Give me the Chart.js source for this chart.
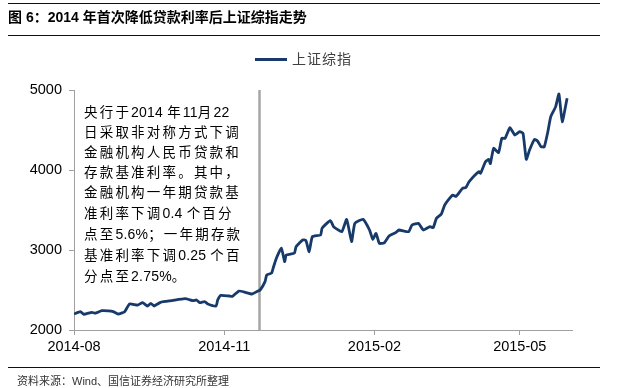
<!DOCTYPE html>
<html lang="zh-CN">
<head>
    <meta charset="UTF-8">
    <title>2014年首次降低贷款利率后上证综指走势</title>
    <script src="https://cdn.jsdelivr.net/npm/chart.js"></script>
    <style>
        body { margin: 0; background: #fff; }
        .wrap { position: relative; width: 642px; height: 388px; font-family: "Liberation Sans", Arial, "Noto Sans CJK SC", sans-serif; color: #000; }
        canvas { position: absolute; left: 0; top: 0; }
        .rule { position: absolute; left: 8px; width: 592px; height: 0; border-top: 1.5px solid #111; }
        .title { position: absolute; left: 8px; top: 7px; font-size: 14px; line-height: 20px; font-weight: bold; }
        .legend { position: absolute; left: 255px; top: 49px; font-size: 14px; line-height: 20px; color: #404040; letter-spacing: 1px; }
        .legend i { display: inline-block; width: 32px; height: 3px; background: #173a6b; vertical-align: middle; margin-right: 5px; position: relative; top: -1px; }
        .note { position: absolute; left: 84px; top: 102px; font-size: 13.5px; line-height: 20px; letter-spacing: 2.2px; }
        .note b { font-weight: normal; letter-spacing: 0.2px; font-size: 14px; }
        .source { position: absolute; left: 17px; top: 374px; font-size: 11px; line-height: 14px; color: #333; }
    </style>
</head>
<body>
<div class="wrap">
    <canvas id="shChart" width="642" height="388"></canvas>
    <div class="rule" style="top:3px"></div>
    <div class="title">图 6：2014 年首次降低贷款利率后上证综指走势</div>
    <div class="rule" style="top:35px"></div>
    <div class="legend"><i></i>上证综指</div>
    <div class="note">
        央行于<b>2014 </b>年<b>11</b>月<b>22</b><br>
        日采取非对称方式下调<br>
        金融机构人民币贷款和<br>
        存款基准利率。其中，<br>
        金融机构一年期贷款基<br>
        准利率下调<b>0.4 </b>个百分<br>
        点至<b>5.6%</b>；一年期存款<br>
        基准利率下调<b>0.25 </b>个百<br>
        分点至<b>2.75%</b>。
    </div>
    <div class="rule" style="top:367px"></div>
    <div class="source">资料来源：Wind、国信证券经济研究所整理</div>
</div>
<script>
    // 上证综指
    const dates = [
        '2014-08-01', '2014-08-05', '2014-08-07', '2014-08-12', '2014-08-14', '2014-08-18', '2014-08-22', '2014-08-25',
        '2014-08-28', '2014-09-01', '2014-09-04', '2014-09-09', '2014-09-12', '2014-09-15', '2014-09-17', '2014-09-19',
        '2014-09-23', '2014-09-30', '2014-10-08', '2014-10-13', '2014-10-15', '2014-10-17', '2014-10-20', '2014-10-22',
        '2014-10-27', '2014-10-28', '2014-10-30', '2014-11-04', '2014-11-06', '2014-11-10', '2014-11-14', '2014-11-18',
        '2014-11-21', '2014-11-23', '2014-11-26', '2014-11-27', '2014-11-30', '2014-12-01', '2014-12-03', '2014-12-06',
        '2014-12-08', '2014-12-09', '2014-12-14', '2014-12-15', '2014-12-19', '2014-12-21', '2014-12-23', '2014-12-25',
        '2014-12-30', '2014-12-31', '2015-01-05', '2015-01-07', '2015-01-12', '2015-01-15', '2015-01-18', '2015-01-20',
        '2015-01-25', '2015-01-29', '2015-01-31', '2015-02-02', '2015-02-04', '2015-02-07', '2015-02-10', '2015-02-14',
        '2015-02-16', '2015-02-22', '2015-02-24', '2015-02-28', '2015-03-03', '2015-03-07', '2015-03-09', '2015-03-11',
        '2015-03-14', '2015-03-16', '2015-03-19', '2015-03-21', '2015-03-23', '2015-03-27', '2015-03-29', '2015-03-31',
        '2015-04-06', '2015-04-07', '2015-04-10', '2015-04-12', '2015-04-13', '2015-04-15', '2015-04-18', '2015-04-20',
        '2015-04-22', '2015-04-25', '2015-04-28', '2015-05-01', '2015-05-03', '2015-05-05', '2015-05-07', '2015-05-10',
        '2015-05-12', '2015-05-14', '2015-05-16', '2015-05-18', '2015-05-20', '2015-05-23', '2015-05-25', '2015-05-27',
        '2015-05-30'
    ];
    const closes = [
        2200, 2229, 2196, 2221, 2210, 2242, 2240, 2230,
        2200, 2229, 2325, 2312, 2342, 2300, 2333, 2300,
        2346, 2367, 2392, 2367, 2375, 2342, 2355, 2325,
        2300, 2375, 2433, 2425, 2420, 2487, 2471, 2450,
        2480, 2500, 2604, 2687, 2712, 2775, 2900, 3025,
        2854, 2937, 2962, 3042, 3125, 3120, 2979, 3167,
        3187, 3275, 3367, 3292, 3229, 3383, 3104, 3333,
        3383, 3250, 3133, 3208, 3083, 3090, 3175, 3217,
        3250, 3229, 3312, 3333, 3250, 3292, 3280, 3396,
        3450, 3562, 3646, 3687, 3670, 3771, 3780, 3854,
        3979, 3960, 4104, 4133, 4080, 4271, 4217, 4396,
        4396, 4529, 4437, 4479, 4460, 4133, 4250, 4383,
        4360, 4292, 4290, 4458, 4667, 4792, 4950, 4604,
        4896
    ];
    const tickDates = ['2014-08-01', '2014-11-01', '2015-02-01', '2015-05-01'];
    const tickLabels = ['2014-08', '2014-11', '2015-02', '2015-05'];
    const cutDate = '2014-11-22';   // 降息日
    const yMin = 2000, yMax = 5000, yStep = 1000;

    const start = Date.parse('2014-08-01');
    const dayOf = s => Math.round((Date.parse(s) - start) / 86400000);

    const points = dates.map((d, i) => ({ x: dayOf(d), y: closes[i] }));
    const tickDays = tickDates.map(dayOf);

    // grey vertical marker at the rate cut
    const cutLine = {
        id: 'cutLine',
        beforeDatasetsDraw(chart) {
            const { ctx, chartArea, scales } = chart;
            const x = Math.round(scales.x.getPixelForValue(dayOf(cutDate))) + 0.5;
            ctx.save();
            ctx.strokeStyle = '#a6a6a6';
            ctx.lineWidth = 2.5;
            ctx.beginPath();
            ctx.moveTo(x, chartArea.top);
            ctx.lineTo(x, chartArea.bottom);
            ctx.stroke();
            ctx.restore();
        }
    };

    Chart.defaults.font.family = '"Liberation Sans", Arial, "Noto Sans CJK SC", sans-serif';
    Chart.defaults.color = '#000';

    new Chart(document.getElementById('shChart'), {
        type: 'line',
        data: {
            datasets: [{
                label: '上证综指',
                data: points,
                borderColor: '#173a6b',
                borderWidth: 2.8,
                pointRadius: 0,
                tension: 0.15,
                fill: false
            }]
        },
        options: {
            responsive: false,
            animation: false,
            layout: { padding: { top: 90, right: 70, bottom: 28, left: 0 } },
            plugins: {
                legend: { display: false },
                tooltip: { enabled: false }
            },
            scales: {
                x: {
                    type: 'linear',
                    min: 0,
                    max: 305,
                    afterBuildTicks: s => { s.ticks = tickDays.map(v => ({ value: v })); },
                    afterFit: s => { s.height = 30; },
                    ticks: {
                        autoSkip: false,
                        maxRotation: 0,
                        padding: 3,
                        font: { size: 14.5 },
                        callback: v => tickLabels[tickDays.indexOf(v)]
                    },
                    grid: { drawOnChartArea: false, tickLength: 5, color: '#a0a0a0' },
                    border: { color: '#a0a0a0', width: 1 }
                },
                y: {
                    min: yMin,
                    max: yMax,
                    afterFit: s => { s.width = 74; },
                    ticks: { stepSize: yStep, padding: 7, font: { size: 14.5 }, callback: v => String(v) },
                    grid: { drawOnChartArea: false, tickLength: 5, color: '#a0a0a0' },
                    border: { color: '#a0a0a0', width: 1 }
                }
            }
        },
        plugins: [cutLine]
    });
</script>
</body>
</html>
